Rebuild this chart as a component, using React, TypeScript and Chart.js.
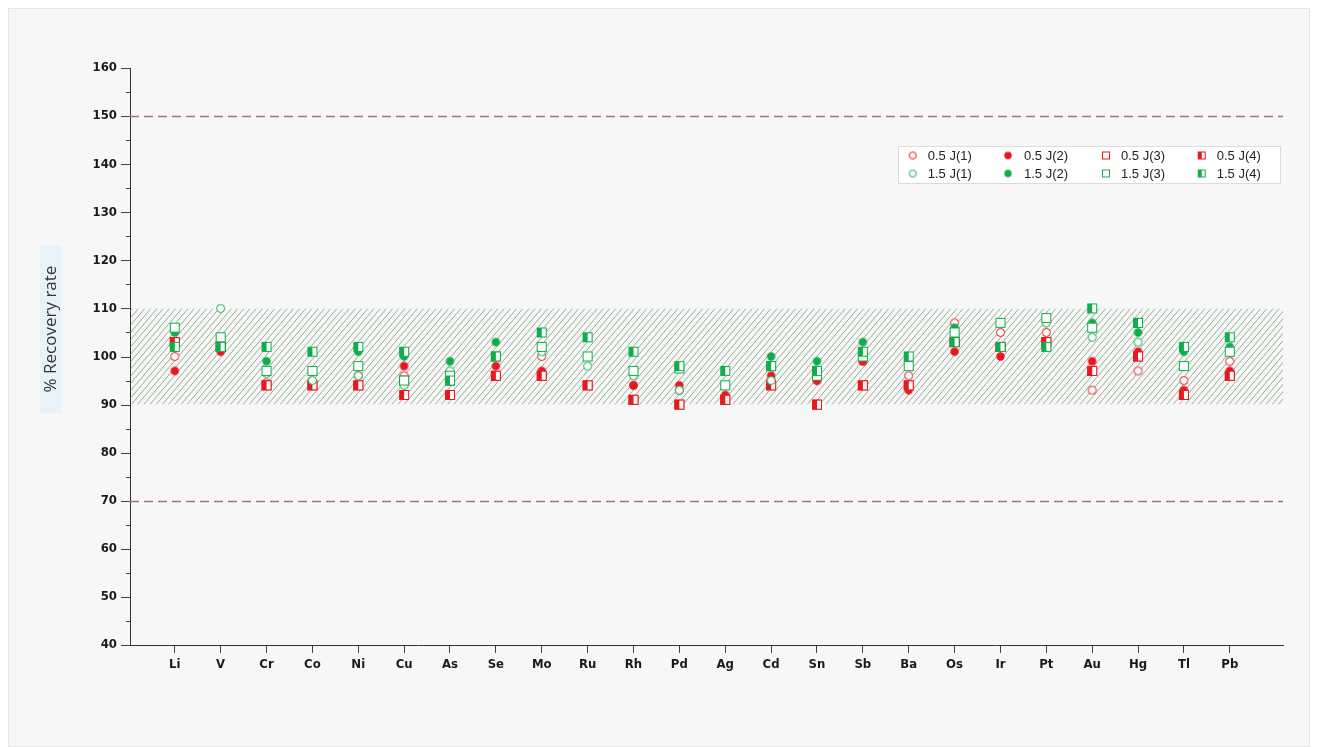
import React, { useEffect, useRef } from "react";
import { Chart, registerables } from "chart.js";

Chart.register(...registerables);

// ---------- data ----------
const categories = ["Li", "V", "Cr", "Co", "Ni", "Cu", "As", "Se", "Mo", "Ru", "Rh", "Pd", "Ag", "Cd", "Sn", "Sb", "Ba", "Os", "Ir", "Pt", "Au", "Hg", "Tl", "Pb"];

const yTickValues = [40, 50, 60, 70, 80, 90, 100, 110, 120, 130, 140, 150, 160];

const low05J1 = [100, 103, 94.5, 94, 96, 96, 96, 96, 100, 94, 94, 93, 91, 95, 95, 99, 96, 107, 105, 105, 93, 97, 95, 99];
const low05J2 = [97, 101, 94, 94, 94, 98, 96, 98, 97, 94, 94, 94, 92, 96, 95, 99, 93, 101, 100, 102, 99, 101, 93, 97];
const low05J3 = [103, 102, 94, 94, 94, 95, 95, 96, 96, 94, 91, 90, 91, 94, 90, 94, 94, 103, 102, 103, 97, 100, 92, 96];
const low05J4 = [103, 102, 94, 94, 94, 92, 92, 96, 96, 94, 91, 90, 91, 94, 90, 94, 94, 103, 102, 103, 97, 100, 92, 96];
const high15J1 = [102, 110, 96.5, 95, 96, 94, 97, 100, 101, 98, 96, 93, 94, 95, 96, 100, 98, 105, 107, 107, 104, 103, 98, 101];
const high15J2 = [105, 103, 99, 97, 101, 100, 99, 103, 102, 100, 97, 98, 94, 100, 99, 103, 100, 106, 102, 108, 107, 105, 101, 102];
const high15J3 = [106, 104, 97, 97, 98, 95, 96, 100, 102, 100, 97, 97.5, 94, 98, 96, 100, 98, 105, 107, 108, 106, 107, 98, 101];
const high15J4 = [102, 102, 102, 101, 102, 101, 95, 100, 105, 104, 101, 98, 97, 98, 97, 101, 100, 103, 102, 102, 110, 107, 102, 104];

const seriesLabels = ["0.5 J(1)", "0.5 J(2)", "0.5 J(3)", "0.5 J(4)", "1.5 J(1)", "1.5 J(2)", "1.5 J(3)", "1.5 J(4)"];

// ---------- styles ----------
const RED = "#e8181e";
const GREEN = "#0fae4b";
const FONT_AXIS = "'Liberation Sans Narrow', 'DejaVu Sans Condensed', 'Liberation Sans', Arial, sans-serif";
const FONT_TEXT = "'Liberation Sans', Arial, sans-serif";

type Kind = "openCircle" | "dot" | "openSquare" | "halfSquare";

function makeMarker(kind: Kind, color: string, size: number): HTMLCanvasElement {
  const c = document.createElement("canvas");
  const dim = size + 2;
  c.width = dim;
  c.height = dim;
  const ctx = c.getContext("2d")!;
  const m = dim / 2;
  ctx.lineWidth = 1;
  if (kind === "openCircle") {
    ctx.beginPath();
    ctx.arc(m, m, size / 2 - 0.5, 0, Math.PI * 2);
    ctx.fillStyle = "#ffffff";
    ctx.fill();
    ctx.strokeStyle = color;
    ctx.stroke();
  } else if (kind === "dot") {
    ctx.beginPath();
    ctx.arc(m, m, size / 2 - 0.3, 0, Math.PI * 2);
    ctx.fillStyle = color;
    ctx.fill();
  } else if (kind === "openSquare") {
    ctx.fillStyle = "#ffffff";
    ctx.fillRect(1, 1, size, size);
    ctx.strokeStyle = color;
    ctx.strokeRect(1.5, 1.5, size - 1, size - 1);
  } else {
    ctx.fillStyle = "#ffffff";
    ctx.fillRect(1, 1, size, size);
    ctx.fillStyle = color;
    ctx.fillRect(1, 1, Math.ceil(size / 2), size);
    ctx.strokeStyle = color;
    ctx.strokeRect(1.5, 1.5, size - 1, size - 1);
  }
  return c;
}

const seriesValues = [low05J1, low05J2, low05J3, low05J4, high15J1, high15J2, high15J3, high15J4];
const seriesKinds: Kind[] = ["openCircle", "dot", "openSquare", "halfSquare", "openCircle", "dot", "openSquare", "halfSquare"];
const seriesColors = [RED, RED, RED, RED, GREEN, GREEN, GREEN, GREEN];

export default function App() {
  const ref = useRef<HTMLCanvasElement | null>(null);

  useEffect(() => {
    if (!ref.current) return;
    const plotMarkers = seriesKinds.map((k, i) =>
      makeMarker(k, seriesColors[i], k === "openSquare" || k === "halfSquare" ? 10 : 9)
    );
    const legendMarkers = seriesKinds.map((k, i) => makeMarker(k, seriesColors[i], 8));

    const decorPlugin = {
      id: "decor",
      beforeDatasetsDraw(chart: any) {
        const { ctx, chartArea, scales } = chart;
        const y = scales.y;
        const top = y.getPixelForValue(110);
        const bot = y.getPixelForValue(90);
        // hatched band
        ctx.save();
        ctx.beginPath();
        ctx.rect(chartArea.left, top, chartArea.right - chartArea.left, bot - top);
        ctx.clip();
        ctx.strokeStyle = "rgba(90,128,90,0.62)";
        ctx.lineWidth = 1;
        const h = bot - top;
        const dx = h * 0.85;
        for (let x0 = chartArea.left - dx - 10; x0 < chartArea.right + 10; x0 += 6.2) {
          ctx.beginPath();
          ctx.moveTo(x0, bot);
          ctx.lineTo(x0 + dx, top);
          ctx.stroke();
        }
        ctx.restore();
        // dashed limit lines
        ctx.save();
        ctx.strokeStyle = "#ad6c72";
        ctx.lineWidth = 1.5;
        ctx.setLineDash([9, 5]);
        [150, 70].forEach((v) => {
          const py = Math.round(y.getPixelForValue(v)) + 0.5;
          ctx.beginPath();
          ctx.moveTo(chartArea.left, py);
          ctx.lineTo(chartArea.right, py);
          ctx.stroke();
        });
        ctx.restore();
      },
      afterDraw(chart: any) {
        const { ctx, chartArea, scales } = chart;
        const y = scales.y;
        // y tick marks (major + minor)
        ctx.save();
        ctx.strokeStyle = "#444";
        ctx.lineWidth = 1;
        for (let v = 40; v <= 160; v += 5) {
          const py = Math.round(y.getPixelForValue(v)) + 0.5;
          const len = v % 10 === 0 ? 9 : 4;
          ctx.beginPath();
          ctx.moveTo(chartArea.left - len, py);
          ctx.lineTo(chartArea.left, py);
          ctx.stroke();
        }
        ctx.restore();

        // y axis title with faint highlight
        ctx.save();
        ctx.fillStyle = "rgba(222,242,250,0.7)";
        ctx.fillRect(31, 236, 22, 168);
        ctx.translate(42, 320);
        ctx.rotate(-Math.PI / 2);
        ctx.fillStyle = "#333";
        ctx.font = "17px 'Open Sans', 'Noto Sans', sans-serif";
        ctx.textAlign = "center";
        ctx.textBaseline = "middle";
        ctx.fillText("% Recovery rate", 0, 0);
        ctx.restore();

        // legend
        ctx.save();
        const lx = 889, ly = 137, lw = 383, lh = 38;
        ctx.fillStyle = "#ffffff";
        ctx.fillRect(lx, ly, lw, lh);
        ctx.strokeStyle = "#dcdcdc";
        ctx.lineWidth = 1;
        ctx.strokeRect(lx + 0.5, ly + 0.5, lw - 1, lh - 1);
        const colMarker = [903.7, 999, 1097, 1192.7];
        const colText = [918.7, 1015, 1112, 1207.7];
        const rowY = [146.5, 164.5];
        ctx.font = "13px " + FONT_TEXT;
        ctx.fillStyle = "#222";
        ctx.textBaseline = "middle";
        ctx.textAlign = "left";
        for (let i = 0; i < 8; i++) {
          const row = i < 4 ? 0 : 1;
          const col = i % 4;
          const mk = legendMarkers[i];
          ctx.drawImage(mk, colMarker[col] - mk.width / 2, rowY[row] - mk.height / 2);
          ctx.fillText(seriesLabels[i], colText[col], rowY[row] + 0.5);
        }
        ctx.restore();
      },
    };

    const datasets = seriesValues.map((vals, i) => ({
      label: seriesLabels[i],
      data: vals.map((v, j) => ({ x: j + 1, y: v })),
      pointStyle: plotMarkers[i] as any,
      pointRadius: 5,
      showLine: false,
      order: 7 - i,
    }));

    const chart = new Chart(ref.current, {
      type: "scatter",
      data: { datasets },
      options: {
        animation: false,
        responsive: false,
        devicePixelRatio: 1,
        layout: { padding: { top: 59, right: 26, left: 0, bottom: 0 } },
        plugins: { legend: { display: false }, tooltip: { enabled: false } },
        scales: {
          x: {
            type: "linear",
            min: 0.024,
            max: 25.16,
            afterBuildTicks: (scale: any) => {
              scale.ticks = categories.map((_, i) => ({ value: i + 1 }));
            },
            afterFit: (scale: any) => {
              scale.height = 101;
            },
            ticks: {
              autoSkip: false,
              maxRotation: 0,
              padding: 4,
              color: "#1a1a1a",
              font: { family: FONT_AXIS, size: 13, weight: "bold" },
              callback: (v: any) => categories[Number(v) - 1] ?? "",
            },
            grid: { drawOnChartArea: false, drawTicks: true, tickLength: 8, color: "#444" },
            border: { display: true, color: "#333", width: 1 },
          },
          y: {
            min: 40,
            max: 160,
            afterBuildTicks: (scale: any) => {
              scale.ticks = yTickValues.map((v) => ({ value: v }));
            },
            afterFit: (scale: any) => {
              scale.width = 121;
            },
            ticks: {
              padding: 13,
              color: "#1a1a1a",
              font: { family: FONT_AXIS, size: 13, weight: "bold" },
            },
            grid: { display: false, drawTicks: false },
            border: { display: true, color: "#333", width: 1 },
          },
        },
      },
      plugins: [decorPlugin],
    } as any);

    return () => chart.destroy();
  }, []);

  return (
    <div
      style={{
        position: "relative",
        width: 1302,
        height: 739,
        background: "#f7f7f7",
        border: "1px solid #e6e6e6",
        boxSizing: "border-box",
      }}
    >
      <canvas ref={ref} width={1300} height={737} style={{ position: "absolute", left: 0, top: 0, width: 1300, height: 737 }} />
    </div>
  );
}
